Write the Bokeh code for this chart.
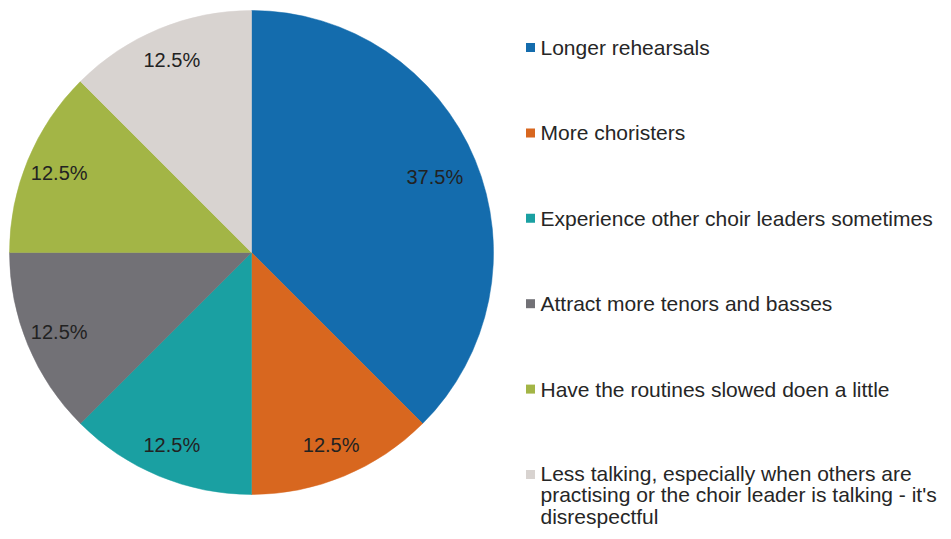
import math
import textwrap
from bokeh.plotting import figure
from bokeh.models import Range1d, ColumnDataSource
from bokeh.core.properties import value
from bokeh.embed import file_html
from bokeh.resources import INLINE

categories = [
    "Longer rehearsals",
    "More choristers",
    "Experience other choir leaders sometimes",
    "Attract more tenors and basses",
    "Have the routines slowed doen a little",
    "Less talking, especially when others are practising or the choir leader is talking - it's disrespectful",
]
values = [37.5, 12.5, 12.5, 12.5, 12.5, 12.5]
colors = ["#146cad", "#d8671f", "#1aa0a2", "#727176", "#a3b546", "#d8d3d0"]

W, H = 943, 539
FONT = "Liberation Sans"

# data units == pixels; data y = 539 - image y
p = figure(width=W, height=H, output_backend="svg", toolbar_location=None,
           x_range=Range1d(0, W), y_range=Range1d(539 - H, 539),
           min_border=0, outline_line_color=None)
p.axis.visible = False
p.grid.visible = False
p.background_fill_color = "white"

cx, cy, R = 251, 287, 242
total = sum(values)
starts, ends, lx, ly, labels = [], [], [], [], []
a = math.pi / 2
for v in values:
    sweep = 2 * math.pi * v / total
    starts.append(a)
    ends.append(a - sweep)
    mid = a - sweep / 2
    lr = 0.82 * R if v / total > 0.25 else 0.86 * R
    lx.append(cx + lr * math.cos(mid))
    ly.append(cy + lr * math.sin(mid))
    labels.append(f"{v:.1f}%")
    a -= sweep

src = ColumnDataSource(dict(start=starts, end=ends, color=colors))
p.wedge(x=cx, y=cy, radius=R, start_angle="start", end_angle="end",
        direction="clock", fill_color="color", line_color="color",
        line_width=0.5, source=src)

p.text(x=lx, y=ly, text=labels, text_font=value(FONT), text_font_size="20px",
       text_color="#222222", text_align="center", text_baseline="middle")

# legend
leg_top = 539 - 47
step = 85.4
for i, (cat, col) in enumerate(zip(categories, colors)):
    yy = leg_top - i * step
    p.rect(x=[530], y=[yy], width=9, height=9, fill_color=col, line_color=None)
    txt = textwrap.fill(cat, width=48)
    if "\n" in txt:
        p.text(x=[540], y=[yy + 13], text=[txt], text_font=value(FONT),
               text_font_size="21px", text_color="#262626",
               text_align="left", text_baseline="top", text_line_height=0.95)
    else:
        p.text(x=[540], y=[yy], text=[txt], text_font=value(FONT),
               text_font_size="21px", text_color="#262626",
               text_align="left", text_baseline="middle")

open("out.html", "w").write(file_html(p, INLINE))
